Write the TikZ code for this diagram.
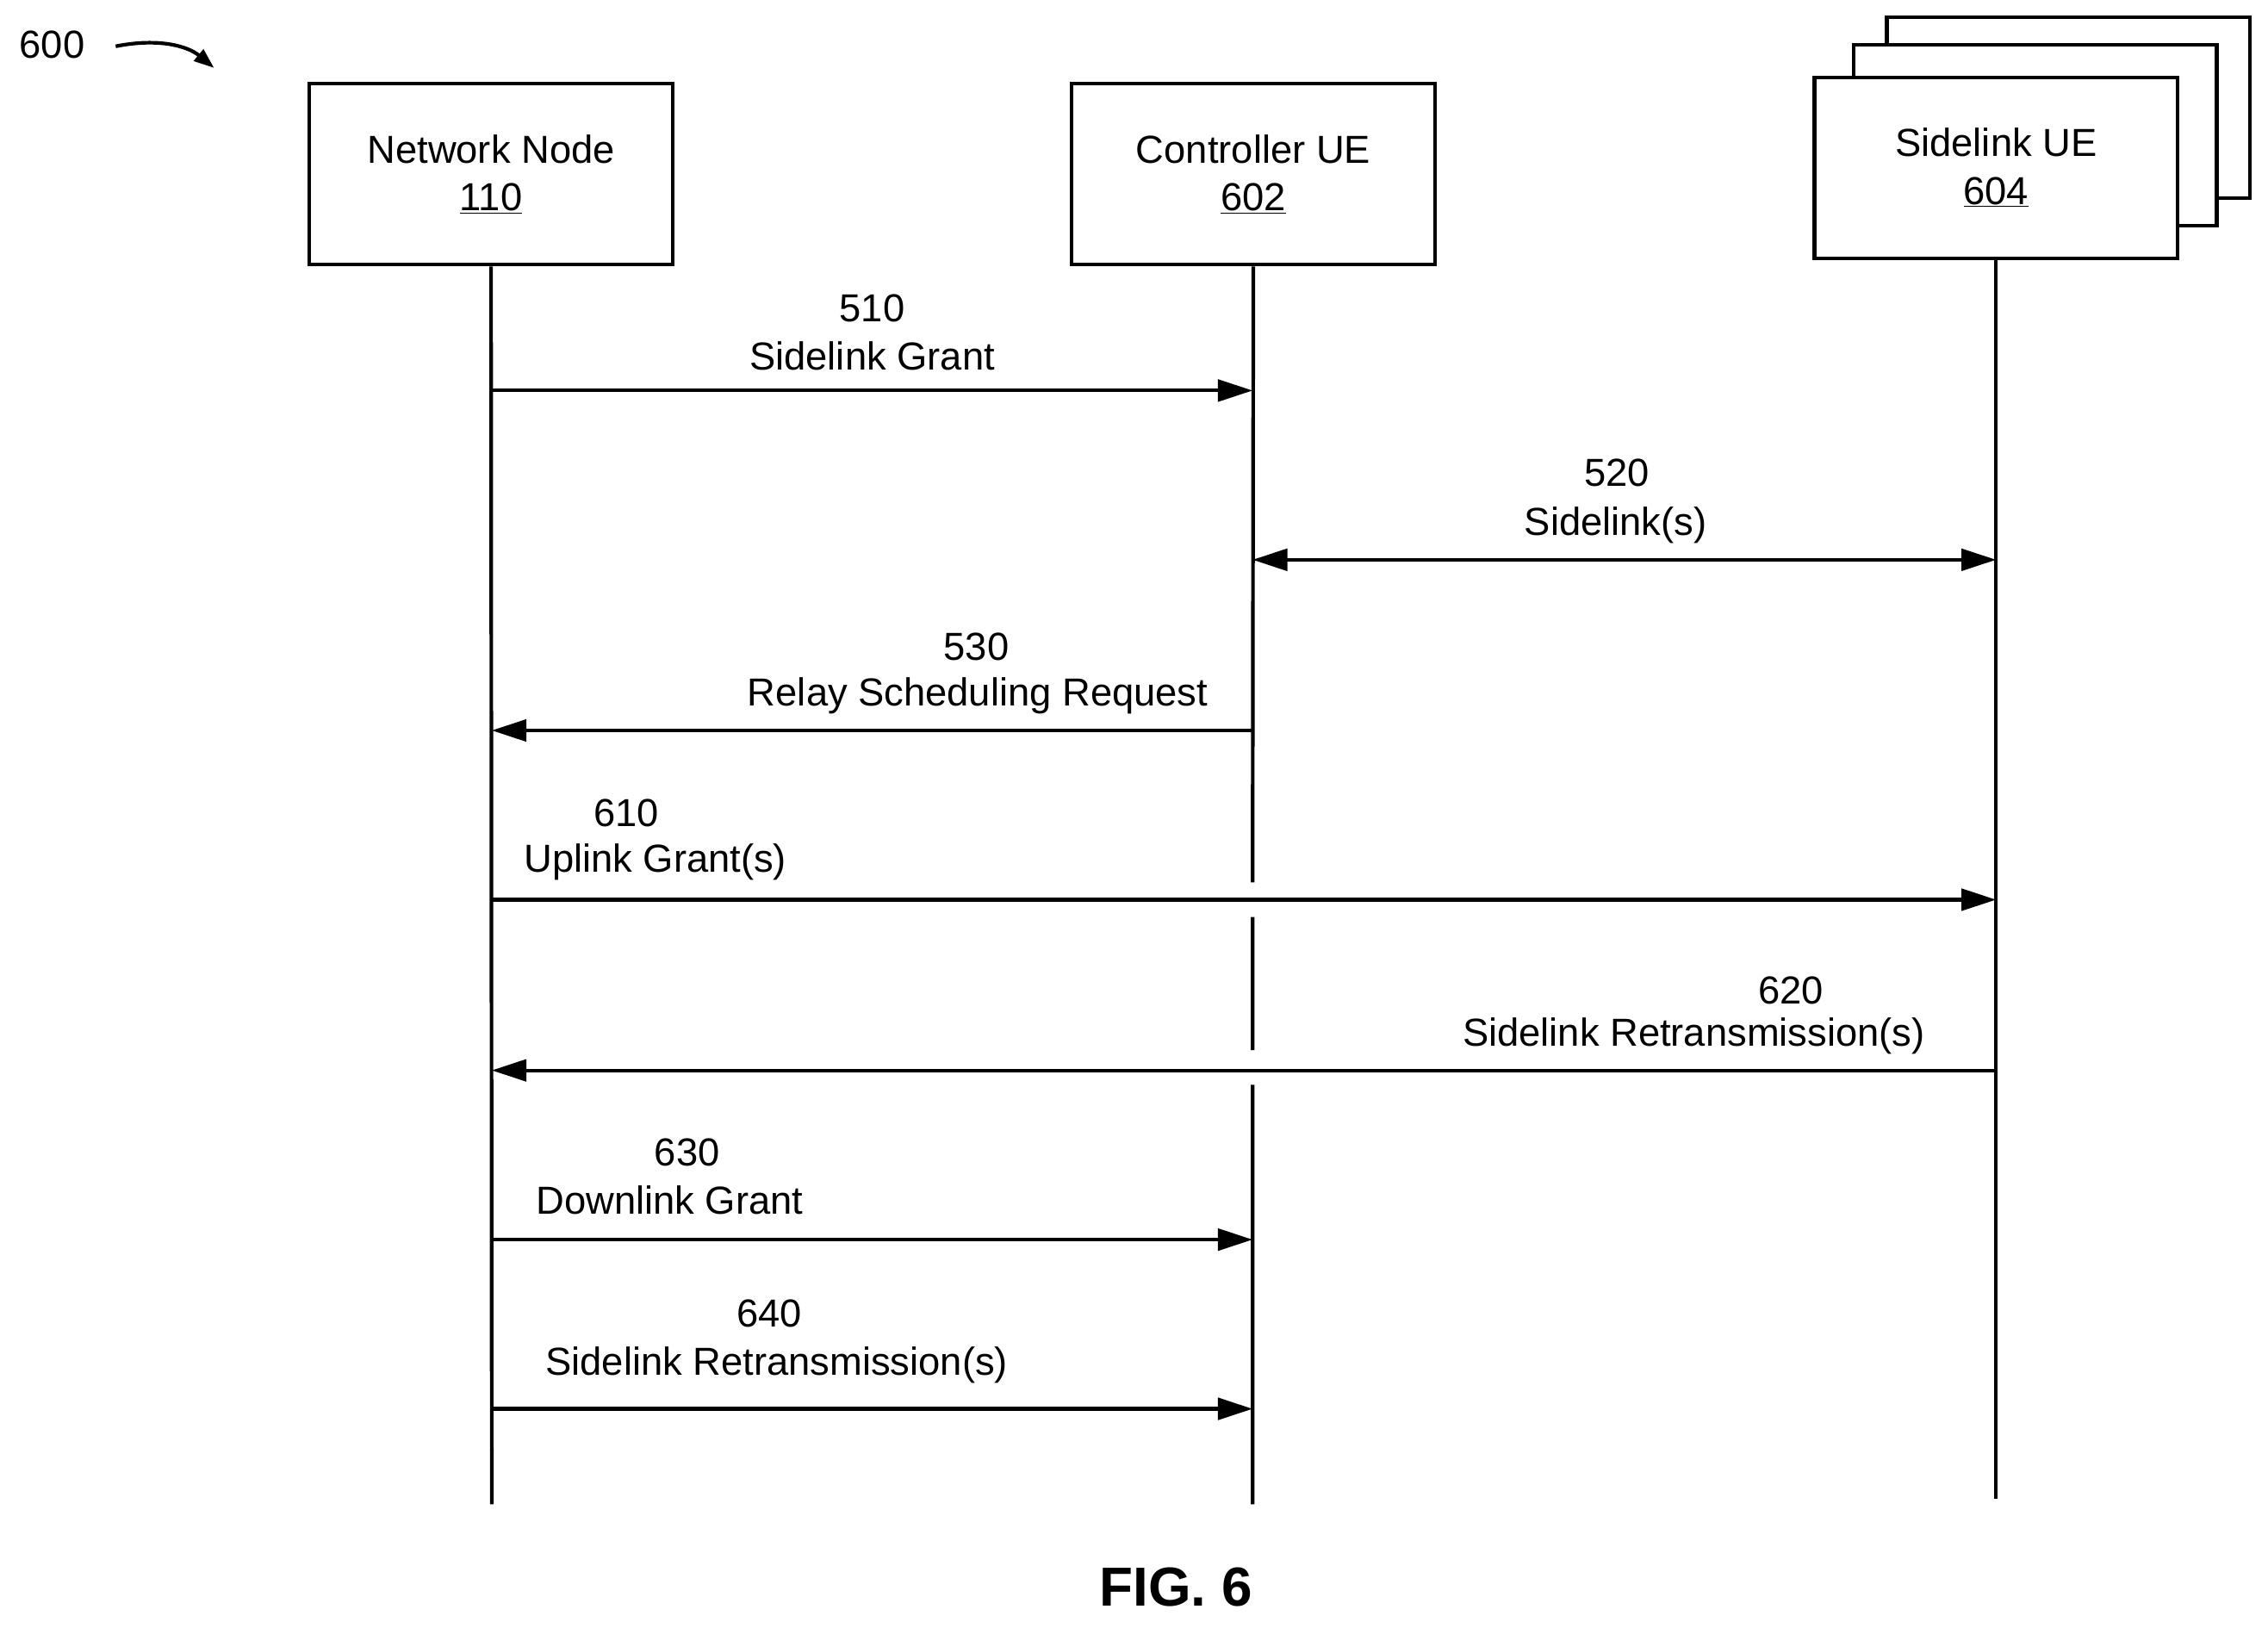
\documentclass[tikz,border=0pt]{standalone}
\usepackage{fontspec}
\setmainfont{Liberation Sans}
\usetikzlibrary{arrows.meta}
\begin{document}
\begin{tikzpicture}[x=1pt,y=-1pt,
  box/.style={draw,line width=2.5pt,fill=white,minimum width=251pt,minimum height=125pt,align=center,font=\fontsize{27}{33}\selectfont},
  life/.style={line width=2.5pt},
  msg/.style={line width=2.5pt,-{Triangle[length=24pt,width=15pt]}},
  lbl/.style={font=\fontsize{27}{30}\selectfont,inner sep=0pt}]
\useasboundingbox (0,0) rectangle (1568,1125);
\node[box] (b3) at (1430,74.5) {};
\node[box] (b2) at (1407,93.5) {};
\node[box] (nn) at (339.5,120.5) {Network Node\\\underline{110}};
\node[box] (cu) at (866.5,120.5) {Controller UE\\\underline{602}};
\node[box] (su) at (1380,116) {Sidelink UE\\\underline{604}};
\coordinate (nnE) at (340,1040);
\coordinate (c1) at (866,610); \coordinate (c2) at (866,634);
\coordinate (c3) at (866,726); \coordinate (c4) at (866,750);
\coordinate (cuE) at (866,1040);
\coordinate (suE) at (1380,1036);
\draw[life] (nn.south) -- (nnE);
\draw[life] (cu.south) -- (c1) (c2) -- (c3) (c4) -- (cuE);
\draw[life] (su.south) -- (suE);
% messages
\coordinate (a1) at (340,270); \coordinate (a2) at (866,270);
\draw[msg] (a1) -- (a2);
\node[lbl] (l510) at (603,213) {510};
\node[lbl] (t510) at (603,246) {Sidelink Grant};
\coordinate (b1) at (866,387); \coordinate (b2c) at (1380,387);
\draw[msg,{Triangle[length=24pt,width=15pt]}-{Triangle[length=24pt,width=15pt]}] (b1) -- (b2c);
\node[lbl] (l520) at (1118,327) {520};
\node[lbl] (t520) at (1117,363) {Sidelink(s)};
\coordinate (d1) at (866,505); \coordinate (d2) at (340,505);
\draw[msg] (d1) -- (d2);
\node[lbl] (l530) at (675,447) {530};
\node[lbl] (t530) at (676,481) {Relay Scheduling Request};
\coordinate (e1) at (340,622); \coordinate (e2) at (1380,622);
\draw[msg] (e1) -- (e2);
\node[lbl] (l610) at (433,562) {610};
\node[lbl] (t610) at (453,596) {Uplink Grant(s)};
\coordinate (f1) at (1380,740); \coordinate (f2) at (340,740);
\draw[msg] (f1) -- (f2);
\node[lbl] (l620) at (1238,685) {620};
\node[lbl] (t620) at (1171,716) {Sidelink Retransmission(s)};
\coordinate (g1) at (340,857); \coordinate (g2) at (866,857);
\draw[msg] (g1) -- (g2);
\node[lbl] (l630) at (475,797) {630};
\node[lbl] (t630) at (463,830) {Downlink Grant};
\coordinate (h1) at (340,974); \coordinate (h2) at (866,974);
\draw[msg] (h1) -- (h2);
\node[lbl] (l640) at (532,908) {640};
\node[lbl] (t640) at (537,944) {Sidelink Retransmission(s)};
\node[lbl,font=\bfseries\fontsize{38}{40}\selectfont] (fig) at (813,1097) {FIG. 6};
\node[lbl] (n600) at (36,31) {600};
\coordinate (p1) at (80,32); \coordinate (p2) at (148,47);
\draw[line width=2.5pt,-{Triangle[length=14pt,width=10pt]}] (p1) .. controls (110,26) and (130,32) .. (p2);
\end{tikzpicture}
\end{document}
